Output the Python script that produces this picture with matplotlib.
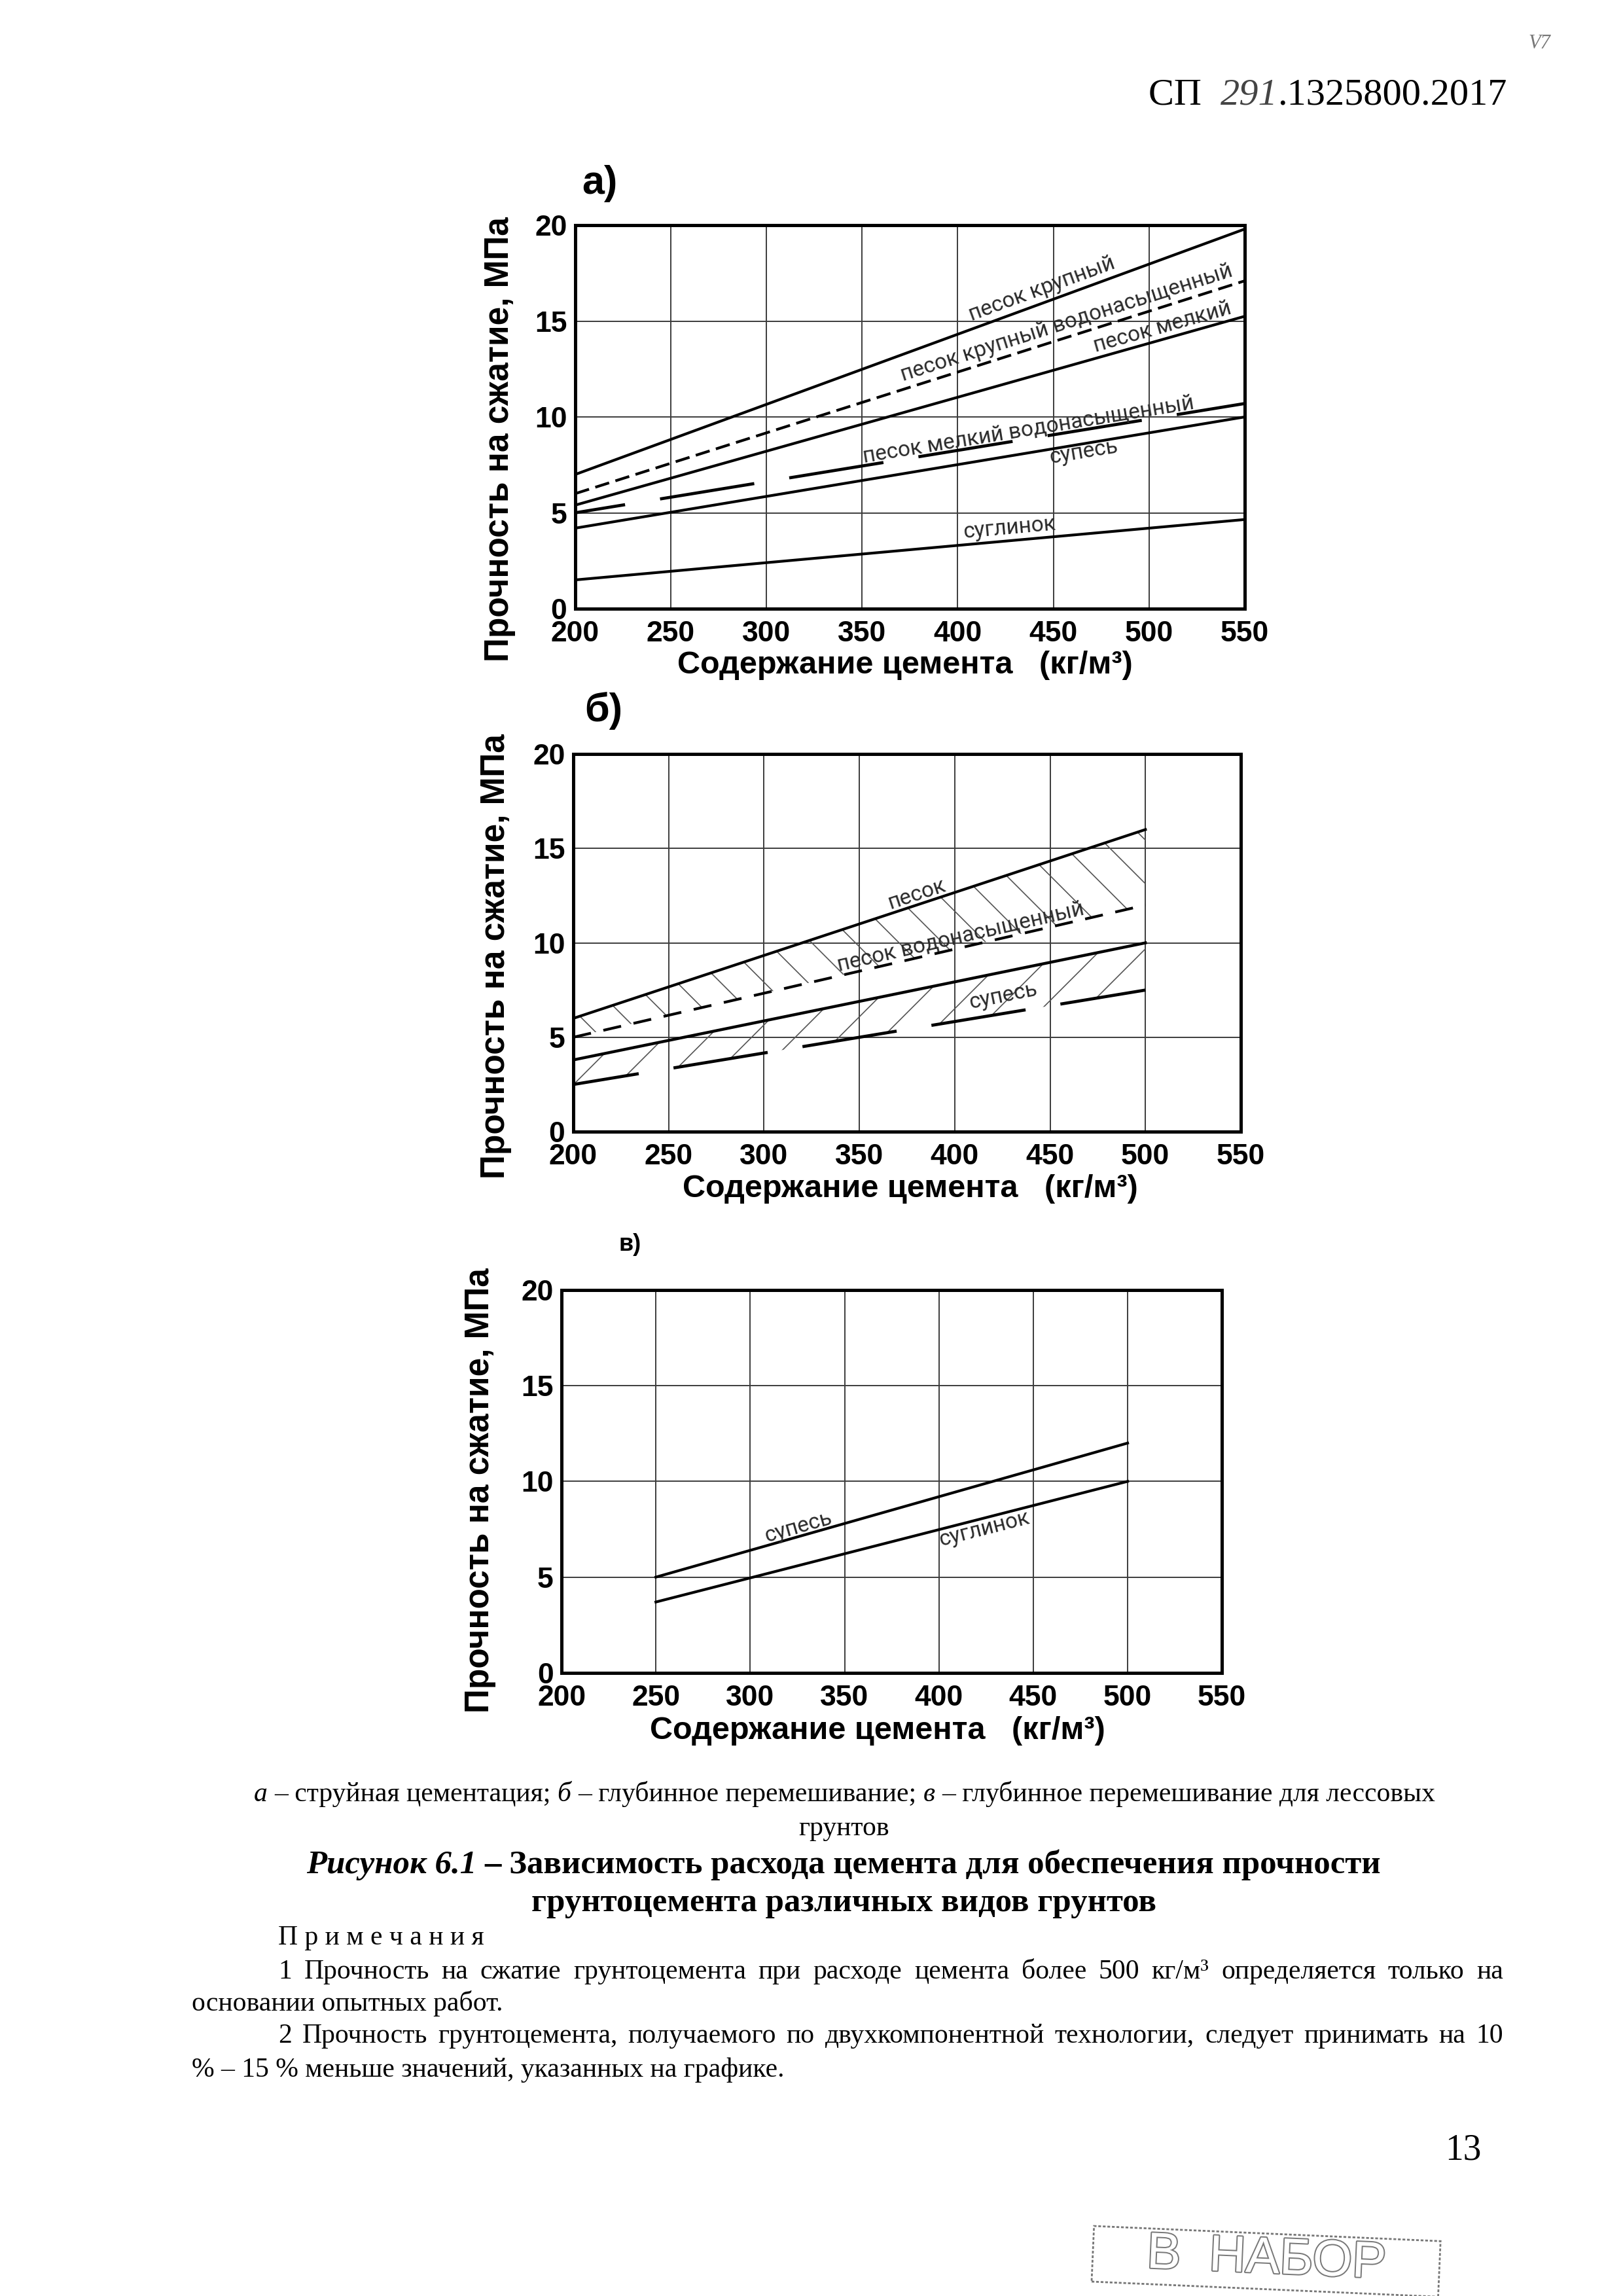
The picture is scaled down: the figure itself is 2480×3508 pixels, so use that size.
import numpy as np
import matplotlib
matplotlib.use("Agg")
import matplotlib.pyplot as plt
import matplotlib.patheffects as pe
from matplotlib.patches import Rectangle
from matplotlib.transforms import IdentityTransform

plt.rcParams['font.family'] = ['Liberation Sans', 'DejaVu Sans']
plt.rcParams['lines.scale_dashes'] = False
plt.rcParams['hatch.linewidth'] = 0.6

# а) струйная цементация
x_a = [200, 550]
a_krup = [7.0, 19.8]
a_krup_vn = [6.0, 17.1]
a_melk = [5.4, 15.25]
a_melk_vn = [5.0, 10.7]
a_supes = [4.2, 10.0]
a_sugl = [1.5, 4.65]

# б) глубинное перемешивание
x_b = [200, 500]
b_pesok = [6.0, 16.0]
b_pesok_vn = [5.0, 12.0]
b_supes = [3.8, 10.0]
b_supes_vn = [2.5, 7.5]

# в) лессовые грунты
x_v = [250, 500]
v_supes = [5.0, 12.0]
v_sugl = [3.7, 10.0]

x_ticks = [200, 250, 300, 350, 400, 450, 500, 550]
y_ticks = [0, 5, 10, 15, 20]

W, H = 2480, 3508
fig = plt.figure(figsize=(12.4, 17.54), dpi=200)
fig.patch.set_facecolor('white')
renderer = fig.canvas.get_renderer()

serif = ['Liberation Serif', 'DejaVu Serif']
hand = ['Liberation Sans Narrow', 'Roboto', 'DejaVu Sans']


def panel(rect, title, tpos, tsize, ylab_pos, xlab_pos):
    ax = fig.add_axes(rect)
    ax.set_xlim(200, 550)
    ax.set_ylim(0, 20)
    ax.set_xticks(x_ticks)
    ax.set_yticks(y_ticks)
    ax.set_xticklabels([str(v) for v in x_ticks], fontweight='bold')
    ax.set_yticklabels([str(v) for v in y_ticks], fontweight='bold')
    ax.grid(True, color='#3c3c3c', lw=0.7)
    ax.set_axisbelow(True)
    ax.tick_params(length=0, labelsize=16)
    ax.tick_params(axis='x', pad=6.5)
    ax.tick_params(axis='y', pad=4.5)
    for s in ax.spines.values():
        s.set_linewidth(1.8)
    ax.set_ylabel('Прочность на сжатие, МПа', fontsize=18.5, fontweight='bold', va='center')
    ax.yaxis.set_label_coords(*ylab_pos)
    ax.set_xlabel('Содержание цемента   (кг/м³)', fontsize=17.5, fontweight='bold', va='center')
    ax.xaxis.set_label_coords(*xlab_pos)
    ax.text(tpos[0], tpos[1], title, transform=ax.transAxes, fontsize=tsize,
            fontweight='bold', ha='center', va='center')
    return ax


def on_line(ax, txt, xs, ys, xc, dy, size=12):
    p = ax.transData.transform(np.column_stack([xs, ys]))
    ang = np.degrees(np.arctan2(p[-1, 1] - p[0, 1], p[-1, 0] - p[0, 0]))
    ax.text(xc, np.interp(xc, xs, ys) + dy, txt, rotation=ang, rotation_mode='anchor',
            ha='center', va='center', family=hand, fontsize=size, color='#2a2a2a')


axA = panel([0.3544, 0.7349, 0.4125, 0.1670], 'а)', (0.037, 1.109), 22, (-0.113, 0.442), (0.493, -0.148))
axA.plot(x_a, a_krup, 'k', lw=1.5)
axA.plot(x_a, a_krup_vn, 'k', lw=1.5, dashes=(8, 3.6))
axA.plot(x_a, a_melk, 'k', lw=1.5)
axA.plot(x_a, a_melk_vn, 'k', lw=1.7, linestyle=(24.7, (52.5, 19.5)))
axA.plot(x_a, a_supes, 'k', lw=1.5)
axA.plot(x_a, a_sugl, 'k', lw=1.5)
on_line(axA, 'песок крупный', x_a, a_krup, 444, 0.75)
on_line(axA, 'песок крупный водонасыщенный', x_a, a_krup_vn, 457, 0.75)
on_line(axA, 'песок мелкий', x_a, a_melk, 507, 0.65)
on_line(axA, 'песок мелкий водонасыщенный', x_a, a_melk_vn, 437, 0.45)
on_line(axA, 'супесь', x_a, a_supes, 466, -0.45)
on_line(axA, 'суглинок', x_a, a_sugl, 427, 0.65)

axB = panel([0.3532, 0.5071, 0.4113, 0.1645], 'б)', (0.045, 1.114), 22, (-0.116, 0.464), (0.505, -0.151))
axB.fill_between(x_b, b_pesok, b_pesok_vn, facecolor='none', edgecolor='#555555', hatch='\\', lw=0)
axB.fill_between(x_b, b_supes, b_supes_vn, facecolor='none', edgecolor='#555555', hatch='/', lw=0)
axB.plot(x_b, b_pesok, 'k', lw=1.5)
axB.plot(x_b, b_pesok_vn, 'k', lw=1.5, dashes=(10, 7))
axB.plot(x_b, b_supes, 'k', lw=1.6)
axB.plot(x_b, b_supes_vn, 'k', lw=1.7, linestyle=(16, (52.5, 19.4)))
on_line(axB, 'песок', x_b, b_pesok, 380, 0.58)
on_line(axB, 'песок водонасыщенный', x_b, b_pesok_vn, 403, 0.57)
on_line(axB, 'супесь', x_b, b_supes, 425.6, -1.26)

axV = panel([0.3460, 0.2714, 0.4069, 0.1668], 'в)', (0.104, 1.118), 13, (-0.123, 0.477), (0.478, -0.152))
axV.plot(x_v, v_supes, 'k', lw=1.5)
axV.plot(x_v, v_sugl, 'k', lw=1.5)
on_line(axV, 'супесь', x_v, v_supes, 325.5, 0.5)
on_line(axV, 'суглинок', x_v, v_sugl, 424, -0.57)


def fx(x):
    return x / W


def fy(y):
    return 1 - y / H


def adv(txt, **kw):
    a = fig.text(0, 0, '|' + txt + '|', **kw)
    b = fig.text(0, 0, '||', **kw)
    w = a.get_window_extent(renderer).width - b.get_window_extent(renderer).width
    a.remove()
    b.remove()
    return w


def runs(parts, x, y, ha='center', size=15):
    widths = [adv(t, family=serif, fontsize=size, **st) for t, st in parts]
    total = sum(widths)
    x0 = x - total / 2 if ha == 'center' else (x - total if ha == 'right' else x)
    for (t, st), w in zip(parts, widths):
        fig.text(fx(x0), fy(y), t, family=serif, fontsize=size, ha='left', va='baseline', **st)
        x0 += w


def justify(line, x0, x1, y, size=15):
    words = line.split(' ')
    ws = [adv(wd, family=serif, fontsize=size) for wd in words]
    gap = (x1 - x0 - sum(ws)) / (len(words) - 1)
    x = x0
    for wd, w in zip(words, ws):
        fig.text(fx(x), fy(y), wd, family=serif, fontsize=size, ha='left', va='baseline')
        x += w + gap


rm = {}
it = {'style': 'italic'}
bd = {'weight': 'bold'}
bi = {'weight': 'bold', 'style': 'italic'}

# шапка страницы
runs([('СП  ', rm), ('291', {'style': 'italic', 'color': '#444444'}), ('.1325800.2017', rm)],
     2303, 160, ha='right', size=21)
fig.text(fx(2352), fy(67), 'V7', family=serif, style='italic', fontsize=11, color='#777777',
         ha='center', va='center')

# подписи к рисунку
runs([('а ', it), ('– струйная цементация; ', rm), ('б ', it), ('– глубинное перемешивание; ', rm),
      ('в ', it), ('– глубинное перемешивание для лессовых', rm)], 1291, 2752)
runs([('грунтов', rm)], 1290, 2804)
runs([('Рисунок 6.1 ', bi), ('– Зависимость расхода цемента для обеспечения прочности', bd)],
     1289, 2862, size=18.3)
runs([('грунтоцемента различных видов грунтов', bd)], 1289, 2920, size=18.3)

runs([('П р и м е ч а н и я', rm)], 425, 2971, ha='left')
justify('1 Прочность на сжатие грунтоцемента при расходе цемента более 500 кг/м³ определяется только на',
        425, 2297, 3023)
runs([('основании опытных работ.', rm)], 293, 3072, ha='left')
justify('2 Прочность грунтоцемента, получаемого по двухкомпонентной технологии, следует принимать на 10',
        425, 2297, 3121)
runs([('% – 15 % меньше значений, указанных на графике.', rm)], 293, 3173, ha='left')

fig.text(fx(2236), fy(3300), '13', family=serif, fontsize=20, ha='center', va='baseline')

# штамп
fig.add_artist(Rectangle((1668, H - 3486), 530, 85, angle=-2.5, transform=IdentityTransform(),
                         fill=False, ec='#777777', lw=1.0, ls=(0, (1.5, 1))))
fig.text(fx(1935), fy(3452), 'В  НАБОР', fontsize=28, color='white', ha='center', va='center',
         rotation=-2.5, path_effects=[pe.withStroke(linewidth=1.4, foreground='#777777')])

fig.savefig('out.png', dpi=200, facecolor='white')
